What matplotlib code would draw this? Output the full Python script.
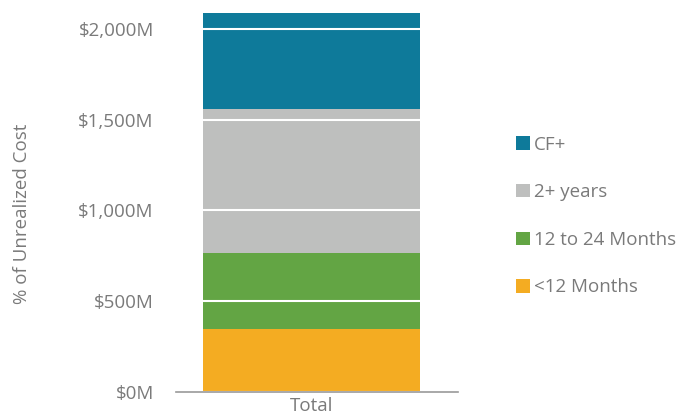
import matplotlib.pyplot as plt
import matplotlib.ticker as ticker

plt.rcParams['font.family'] = ['Open Sans', 'DejaVu Sans']

categories = ['Total']
series = ['<12 Months', '12 to 24 Months', '2+ years', 'CF+']
values = [345, 419, 795, 529]   # $M, stacked bottom to top
colors = ['#F4AC22', '#63A544', '#BEBFBE', '#0E7A9A']
yticks = [0, 500, 1000, 1500, 2000]

text_color = '#7a7a7a'

fig = plt.figure(figsize=(6.94, 4.19), dpi=100)
ax = fig.add_axes([176/694, 1 - 391.5/419, 282/694, 391.5/419])

bottom = 0
handles = []
for name, v, c in zip(series, values, colors):
    b = ax.bar(categories, [v], bottom=bottom, width=0.77, color=c, label=name, zorder=1)
    handles.append(b)
    bottom += v

ax.set_xlim(-0.48, 0.52)
ax.set_ylim(0, 2160)
ax.set_yticks(yticks)
ax.yaxis.set_major_formatter(ticker.FuncFormatter(lambda x, p: f'${x:,.0f}M'))
ax.grid(axis='y', color='white', linewidth=1.5, zorder=3)
ax.set_axisbelow(False)
for s in ['top', 'right', 'left']:
    ax.spines[s].set_visible(False)
ax.spines['bottom'].set_color('#999999')
ax.spines['bottom'].set_linewidth(1.2)
ax.spines['bottom'].set_zorder(4)
ax.tick_params(axis='y', length=0, pad=16, labelsize=13.5, colors=text_color)
ax.tick_params(axis='x', length=0, pad=4, labelsize=13.5, colors=text_color)

fig.text(22/694, 1 - 214/419, '% of Unrealized Cost', rotation=90, ha='center', va='center',
         fontsize=13.5, color=text_color)

leg = fig.legend(handles[::-1], series[::-1], loc='center left',
                 bbox_to_anchor=(516/694, 1 - 216/419), frameon=False,
                 fontsize=13.5, labelspacing=1.58, handlelength=0.72, handleheight=0.72,
                 handletextpad=0.25, borderpad=0, borderaxespad=0)
for t in leg.get_texts():
    t.set_color(text_color)

fig.savefig('out.png', dpi=100)
